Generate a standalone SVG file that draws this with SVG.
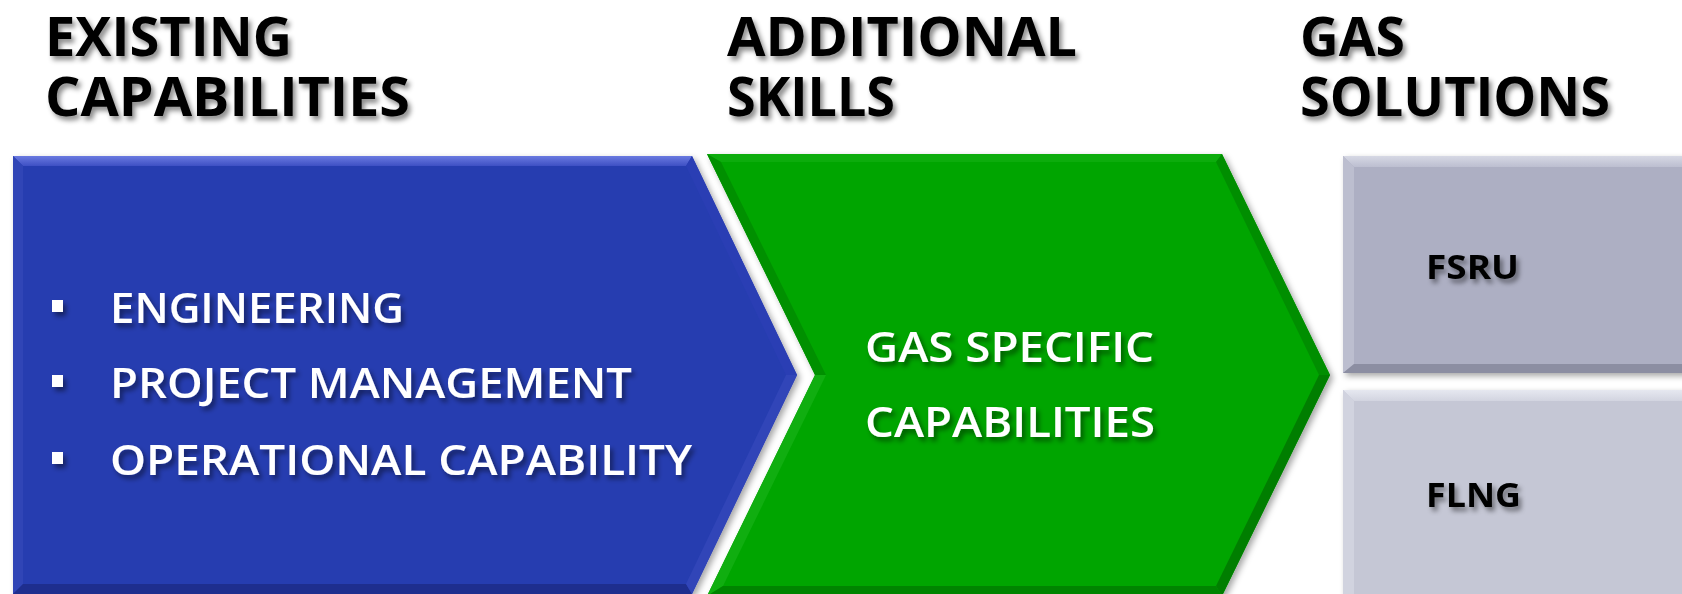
<svg xmlns="http://www.w3.org/2000/svg" width="1682" height="594" viewBox="0 0 1682 594">
<defs>
<filter id="tsh" x="-10%" y="-30%" width="130%" height="170%">
<feDropShadow dx="3" dy="4" stdDeviation="2.5" flood-color="#000" flood-opacity="0.45"/>
</filter>
<filter id="ssh" x="-5%" y="-5%" width="115%" height="115%">
<feDropShadow dx="3" dy="3" stdDeviation="3" flood-color="#000" flood-opacity="0.35"/>
</filter>
<linearGradient id="gTopBlue" x1="0" y1="0" x2="0" y2="1">
<stop offset="0" stop-color="#6A7AE0"/><stop offset="1" stop-color="#3E50C4"/>
</linearGradient>
<linearGradient id="gTopGray" x1="0" y1="0" x2="0" y2="1">
<stop offset="0" stop-color="#D6D8E4"/><stop offset="1" stop-color="#BCBED0"/>
</linearGradient>
<linearGradient id="gTopGray2" x1="0" y1="0" x2="0" y2="1">
<stop offset="0" stop-color="#E6E8F0"/><stop offset="1" stop-color="#D2D4E0"/>
</linearGradient>
</defs>
<style>
.title{font-family:"Open Sans","DejaVu Sans",sans-serif;font-weight:700;font-size:53px;fill:#000;}
.body{font-family:"Open Sans","DejaVu Sans",sans-serif;font-weight:600;font-size:42px;fill:#fff;}
.lbl{font-family:"Open Sans","DejaVu Sans",sans-serif;font-weight:700;font-size:34px;fill:#000;}
</style>

<g id="headers" filter="url(#tsh)">
<text class="title" x="45" y="56" textLength="247" lengthAdjust="spacingAndGlyphs">EXISTING</text>
<text class="title" x="45" y="116" textLength="365" lengthAdjust="spacingAndGlyphs">CAPABILITIES</text>
<text class="title" x="727" y="56" textLength="350" lengthAdjust="spacingAndGlyphs">ADDITIONAL</text>
<text class="title" x="727" y="116" textLength="168" lengthAdjust="spacingAndGlyphs">SKILLS</text>
<text class="title" x="1300" y="56" textLength="105" lengthAdjust="spacingAndGlyphs">GAS</text>
<text class="title" x="1300" y="116" textLength="310" lengthAdjust="spacingAndGlyphs">SOLUTIONS</text>
</g>

<g id="node-existing">
<g filter="url(#ssh)">
<polygon points="13,156 692,156 797,375 692,594 13,594" fill="#283CB0"/>
</g>
<polygon points="13,156 692,156 686,166 23,166" fill="url(#gTopBlue)"/>
<polygon points="13,156 23,166 23,584 13,594" fill="#3045B6"/>
<polygon points="13,594 23,584 686,584 692,594" fill="#1E2E8E"/>
<polygon points="692,156 797,375 786,375 686,166" fill="#2A3EB4"/>
<polygon points="797,375 692,594 686,584 786,375" fill="#3145B8"/>
<g fill="#fff" filter="url(#tsh)">
<rect x="52" y="300" width="11" height="12"/>
<rect x="52" y="375" width="11" height="12"/>
<rect x="52" y="452" width="11" height="12"/>
<text class="body" x="110" y="323" textLength="294" lengthAdjust="spacingAndGlyphs">ENGINEERING</text>
<text class="body" x="110" y="398" textLength="522" lengthAdjust="spacingAndGlyphs">PROJECT MANAGEMENT</text>
<text class="body" x="110" y="475" textLength="582" lengthAdjust="spacingAndGlyphs">OPERATIONAL CAPABILITY</text>
</g>
</g>

<g id="node-additional">
<g filter="url(#ssh)">
<polygon points="707,154 1222,154 1330,375 1222,596 707,596 815,375" fill="#00A500"/>
</g>
<polygon points="707,154 1222,154 1216,162 721,162" fill="#0CAC0C"/>
<polygon points="707,154 721,162 826,375 815,375" fill="#009000"/>
<polygon points="815,375 826,375 723,586 707,596" fill="#10AE10"/>
<polygon points="1222,154 1330,375 1319,375 1216,162" fill="#008E00"/>
<polygon points="1330,375 1222,596 1216,586 1319,375" fill="#007E00"/>
<polygon points="707,596 723,586 1216,586 1222,596" fill="#008400"/>
<g filter="url(#tsh)">
<text class="body" x="865" y="362" textLength="289" lengthAdjust="spacingAndGlyphs">GAS SPECIFIC</text>
<text class="body" x="865" y="437" textLength="290" lengthAdjust="spacingAndGlyphs">CAPABILITIES</text>
</g>
</g>

<g id="node-fsru">
<g filter="url(#ssh)">
<rect x="1343" y="156" width="360" height="217" fill="#ADAFC3"/>
</g>
<polygon points="1343,156 1700,156 1700,167 1354,167" fill="url(#gTopGray)"/>
<polygon points="1343,156 1354,167 1354,364 1343,373" fill="#BCBECF"/>
<polygon points="1343,373 1354,364 1700,364 1700,373" fill="#8C8EA2"/>
<text class="lbl" x="1426" y="279" textLength="93" lengthAdjust="spacingAndGlyphs" filter="url(#tsh)">FSRU</text>
</g>

<g id="node-flng">
<g filter="url(#ssh)">
<rect x="1343" y="390" width="360" height="220" fill="#C5C7D5"/>
</g>
<polygon points="1343,390 1700,390 1700,401 1354,401" fill="url(#gTopGray2)"/>
<polygon points="1343,390 1354,401 1354,600 1343,600" fill="#D1D3DF"/>
<text class="lbl" x="1426" y="507" textLength="95" lengthAdjust="spacingAndGlyphs" filter="url(#tsh)">FLNG</text>
</g>
</svg>
